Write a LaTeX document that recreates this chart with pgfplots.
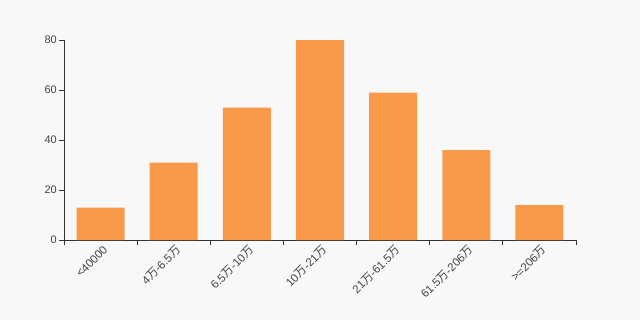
\documentclass[border=0pt]{standalone}
\usepackage{pgfplots}
\pgfplotsset{compat=1.18}
\usepackage{fontspec}
\setmainfont{Liberation Sans}
\newfontfamily\cjk{Noto Sans CJK SC}
\newcommand{\wan}{{\cjk 万}}
\definecolor{bg}{RGB}{248,248,248}
\definecolor{bar}{RGB}{248,154,74}
\definecolor{axc}{RGB}{51,51,51}
\definecolor{txt}{RGB}{68,68,68}
\begin{document}
\begin{tikzpicture}[x=1bp,y=1bp]
\fill[bg] (0,0) rectangle (640,320);
\useasboundingbox (0,0) rectangle (640,320);
\begin{axis}[
  at={(64bp,80bp)}, anchor=south west,
  scale only axis, width=512bp, height=200bp,
  xmin=0, xmax=7, ymin=0, ymax=80,
  axis x line*=bottom, axis y line*=left,
  axis line style={axc, line width=0.8bp, -},
  xtick={0,1,2,3,4,5,6,7},
  xticklabels={},
  extra x ticks={0.5,1.5,2.5,3.5,4.5,5.5,6.5},
  extra x tick labels={{<40000},{4\wan-6.5\wan},{6.5\wan-10\wan},{10\wan-21\wan},{21\wan-61.5\wan},{61.5\wan-206\wan},{>=206\wan}},
  extra x tick style={major tick length=0pt,
    tick label style={rotate=45, anchor=east, font=\fontsize{11.5}{13}\selectfont, text=txt, inner sep=0bp, yshift=-9bp, xshift=-2bp}},
  ytick={0,20,40,60,80},
  y tick label style={font=\fontsize{11}{13}\selectfont, text=txt, inner sep=1bp, xshift=-1bp},
  /pgf/number format/assume math mode=true,
  major tick length=5bp, tick align=outside,
  tick style={axc, line width=0.8bp},
]
\addplot[ybar, bar width=48bp, fill=bar, draw=none] coordinates {
  (0.5,13) (1.5,31) (2.5,53) (3.5,80) (4.5,59) (5.5,36) (6.5,14)
};
\end{axis}
\end{tikzpicture}
\end{document}
